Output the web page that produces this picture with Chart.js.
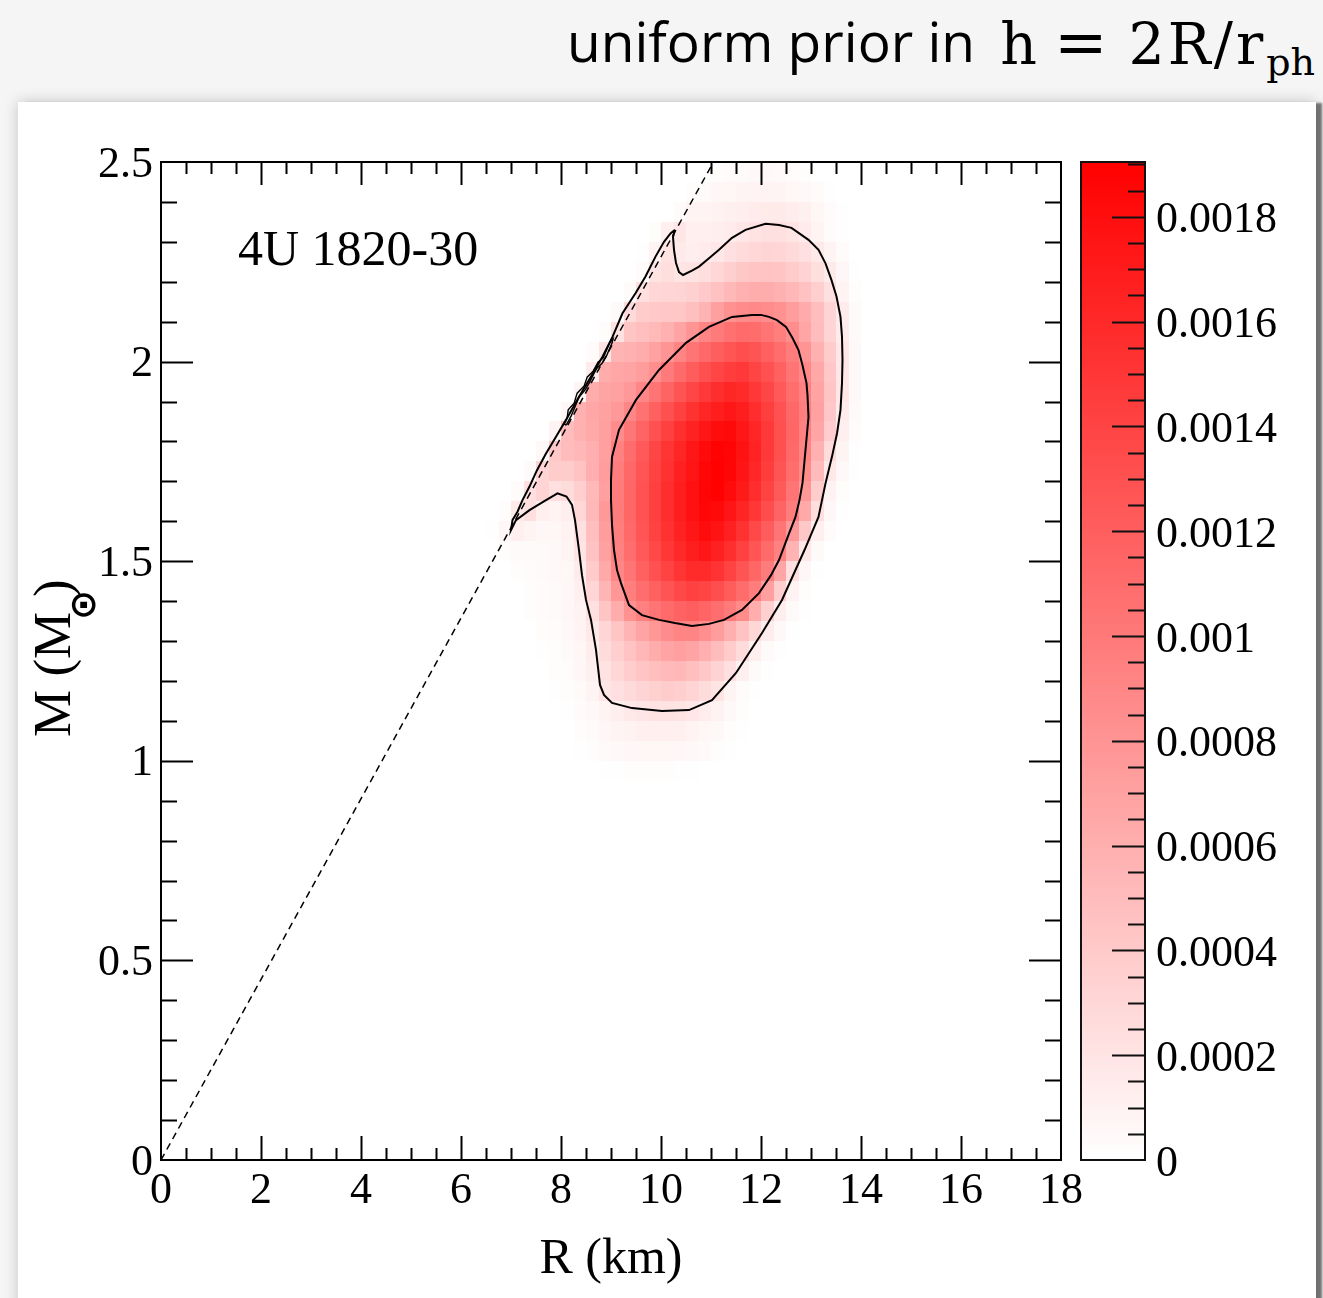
<!DOCTYPE html>
<html>
<head>
<meta charset="utf-8">
<script src="https://cdn.jsdelivr.net/npm/chart.js@4.4.0/dist/chart.umd.min.js"></script>
<style>
html,body{margin:0;padding:0;background:#f5f5f5;width:1323px;height:1298px;overflow:hidden;}
#panel{position:absolute;left:18px;top:102px;width:1298px;height:1230px;background:#fff;
  box-shadow:0 0 14px rgba(0,0,0,0.20), 7px 0 2px -1px rgba(0,0,0,0.5);}
#t1{position:absolute;left:567px;top:13px;white-space:nowrap;line-height:55px;font-family:'Open Sans',sans-serif;font-size:55px;color:#000;}
#t2{position:absolute;right:8px;top:14px;white-space:nowrap;line-height:57px;font-family:'DejaVu Serif',serif;font-size:57px;color:#000;letter-spacing:3px;}
#t2 .eq{font-size:64px;margin:0 18px 0 14px;}
#t2 sub{font-size:38px;vertical-align:-11px;line-height:0;letter-spacing:0;}
#main{position:absolute;left:0;top:0;}
#cbar{position:absolute;left:1070px;top:0;}
</style>
</head>
<body>
<div id="panel"></div>
<div id="t1">uniform prior in</div>
<div id="t2">h<span class="eq">=</span>2R/r<sub>ph</sub></div>
<canvas id="main" width="1088" height="1298"></canvas>
<canvas id="cbar" width="246" height="1298"></canvas>
<script>
// ---------------- data ----------------
const xTickLabels = ['0','2','4','6','8','10','12','14','16','18'];
const yTickLabels = ['0','0.5','1','1.5','2','2.5'];
const cbarTickLabels = ['0','0.0002','0.0004','0.0006','0.0008','0.001','0.0012','0.0014','0.0016','0.0018'];
const sourceName = '4U 1820-30';

// heat-map cell edges (R in km, M in solar masses)
const rEdges = [6.5,6.75,7,7.25,7.5,7.75,8,8.25,8.5,8.75,9,9.25,9.5,9.75,10,10.25,10.5,10.75,11,11.25,11.5,11.75,12,12.25,12.5,12.75,13,13.25,13.5,13.75,14,14.25];
const mEdges = [0.95,1,1.05,1.1,1.15,1.2,1.25,1.3,1.35,1.4,1.45,1.5,1.55,1.6,1.65,1.7,1.75,1.8,1.85,1.9,1.95,2,2.05,2.1,2.15,2.2,2.25,2.3,2.35,2.4,2.45,2.5];
// probability density, units of 1e-5, rows from low M to high M
const densityUnit = 1e-5;
const densityGrid = [
[0,0,0,0,0,0,0,0,0,1,1,2,2,2,2,1,1,0,0,0,0,0,0,0,0,0,0,0,0,0,0],
[0,0,0,0,0,0,0,1,2,4,5,6,7,7,7,6,5,4,2,1,0,0,0,0,0,0,0,0,0,0,0],
[0,0,0,0,0,0,0,2,4,6,8,10,12,12,12,11,9,7,5,2,1,0,0,0,0,0,0,0,0,0,0],
[0,0,0,0,0,0,1,3,5,9,13,17,19,21,21,20,18,14,10,5,2,0,0,0,0,0,0,0,0,0,0],
[0,0,0,0,0,1,2,4,8,19,24,28,32,35,38,36,32,26,20,8,3,1,0,0,0,0,0,0,0,0,0],
[0,0,0,0,0,2,3,6,11,22,30,37,43,48,52,54,48,41,33,24,11,4,1,0,0,0,0,0,0,0,0],
[0,0,0,0,1,2,4,7,14,26,36,45,54,62,68,72,68,60,50,39,26,12,4,1,0,0,0,0,0,0,0],
[0,0,0,0,2,3,5,9,17,31,44,56,68,78,86,92,92,84,73,60,45,30,14,5,1,0,0,0,0,0,0],
[0,0,0,2,3,4,6,10,23,43,62,82,95,104,111,117,120,115,108,99,87,61,35,13,4,1,0,0,0,0,0],
[0,0,0,2,3,4,6,12,31,55,78,96,108,119,128,136,142,140,132,122,110,97,72,36,10,2,0,0,0,0,0],
[0,0,2,3,4,5,7,15,39,64,90,104,118,130,141,151,158,159,152,141,128,114,98,67,24,6,1,0,0,0,0],
[0,2,4,4,4,5,8,20,45,70,93,109,124,137,149,160,168,173,166,155,142,127,111,93,57,18,4,0,0,0,0],
[1,6,12,8,6,7,10,23,48,73,96,112,127,141,154,165,174,181,176,166,153,137,121,103,77,41,12,3,0,0,0],
[0,2,16,24,12,9,13,30,53,77,98,114,129,143,156,168,178,185,184,175,163,149,133,116,97,64,25,6,1,0,0],
[0,0,3,24,32,24,26,36,52,72,98,114,129,143,156,168,178,186,190,182,171,157,141,123,104,78,38,10,2,0,0],
[0,0,0,4,32,38,38,45,60,74,97,113,127,141,154,166,175,185,190,186,175,161,145,128,109,87,51,17,5,1,0],
[0,0,0,0,5,42,50,54,60,72,94,110,124,138,151,162,173,182,188,187,177,164,148,131,112,91,59,26,8,1,0],
[0,0,0,0,0,8,50,58,64,72,86,102,116,130,143,155,165,174,181,183,174,162,148,131,114,94,67,37,12,3,0],
[0,0,0,0,0,0,6,58,66,70,76,90,105,118,131,142,153,162,169,174,168,157,144,130,113,96,70,42,15,4,0],
[0,0,0,0,0,0,0,8,62,68,70,76,90,104,116,128,138,148,156,162,158,149,138,124,109,93,69,43,18,5,0],
[0,0,0,0,0,0,0,0,15,62,66,68,74,84,99,111,121,131,139,145,148,140,130,118,104,88,65,42,18,5,0],
[0,0,0,0,0,0,0,0,3,20,56,58,62,70,80,92,103,112,120,127,132,128,119,109,97,80,59,38,18,5,0],
[0,0,0,0,0,0,0,0,0,2,22,44,48,52,58,68,80,92,99,106,111,110,104,96,85,67,50,32,15,4,0],
[0,0,0,0,0,0,0,0,0,0,4,28,38,40,42,42,48,56,72,82,87,89,87,82,74,63,49,32,15,4,0],
[0,0,0,0,0,0,0,0,0,0,0,3,24,30,31,32,35,40,46,53,59,62,62,59,54,46,36,23,9,2,0],
[0,0,0,0,0,0,0,0,0,0,0,0,3,20,25,20,21,25,30,36,41,44,45,43,39,33,25,16,6,1,0],
[0,0,0,0,0,0,0,0,0,0,0,0,1,9,21,16,13,15,18,23,27,30,32,31,28,23,17,8,3,0,0],
[0,0,0,0,0,0,0,0,0,0,0,0,0,2,12,19,12,11,13,15,18,21,23,23,20,15,8,3,1,0,0],
[0,0,0,0,0,0,0,0,0,0,0,0,0,0,0,3,8,9,10,11,13,15,16,16,14,11,7,3,1,0,0],
[0,0,0,0,0,0,0,0,0,0,0,0,0,0,0,0,2,4,6,7,8,9,9,8,7,5,3,1,0,0,0],
[0,0,0,0,0,0,0,0,0,0,0,0,0,0,0,0,0,0,2,3,4,5,5,4,3,2,0,0,0,0,0]
];
const cbarMax = 0.0019045;

// outer credible contour
const outerR = [10.28,10.24,10.26,10.30,10.36,10.44,10.62,10.76,10.96,11.16,11.42,11.69,12.09,12.36,12.61,12.95,13.15,13.29,13.41,13.51,13.59,13.62,13.63,13.62,13.59,13.52,13.42,13.29,13.15,12.87,12.42,12.02,11.76,11.50,11.02,10.56,10.02,9.42,9.02,8.86,8.78,8.70,8.60,8.50,8.42,8.36,8.28,8.22,8.11,7.93,7.70,7.37,7.10,7.00,7.03,7.13,7.23,7.37,7.52,7.70,7.90,8.10,8.36,8.56,8.83,9.03,9.23,9.49,9.69,9.89,10.06,10.19,10.28];
const outerM = [2.330,2.312,2.280,2.247,2.224,2.217,2.228,2.238,2.259,2.280,2.310,2.330,2.345,2.342,2.335,2.305,2.280,2.246,2.204,2.163,2.112,2.062,2.004,1.946,1.879,1.820,1.762,1.695,1.611,1.528,1.403,1.320,1.270,1.220,1.152,1.127,1.125,1.132,1.145,1.165,1.190,1.278,1.353,1.403,1.465,1.528,1.603,1.641,1.662,1.670,1.653,1.628,1.603,1.578,1.603,1.624,1.653,1.687,1.728,1.770,1.812,1.854,1.912,1.954,2.012,2.062,2.121,2.171,2.213,2.263,2.300,2.321,2.330];
// inner credible contour
const innerR = [11.82,11.42,10.96,10.50,9.96,9.50,9.16,9.02,9.00,9.00,9.02,9.06,9.12,9.20,9.36,9.62,9.96,10.28,10.62,10.96,11.26,11.62,11.96,12.20,12.36,12.55,12.69,12.77,12.83,12.89,12.95,12.93,12.91,12.83,12.75,12.63,12.50,12.32,12.16,12.00,11.82];
const innerM = [2.117,2.112,2.087,2.047,1.979,1.904,1.829,1.761,1.703,1.653,1.591,1.528,1.478,1.445,1.390,1.365,1.353,1.345,1.338,1.343,1.353,1.378,1.420,1.465,1.503,1.566,1.611,1.653,1.696,1.779,1.861,1.916,1.946,1.991,2.029,2.059,2.087,2.104,2.112,2.117,2.117];
// thin inner-level island along the causality line
const ridgeR = [8.104,8.204,8.303,8.363,8.483,8.563,8.663,8.723,8.822,8.902,9.022,9.042,8.982,8.842,8.743,8.643,8.523,8.463,8.323,8.263,8.144,8.124,8.064,8.104];
const ridgeM = [1.841,1.864,1.894,1.911,1.929,1.946,1.971,1.984,1.996,2.012,2.047,2.057,2.049,2.009,1.999,1.976,1.961,1.939,1.921,1.896,1.879,1.859,1.844,1.841];
// limit line R = 3GM/c^2
const limitR = [0, 11.05];
const limitM = [0, 2.5];

// ---------------- helpers ----------------
const SERIF = "'Liberation Serif', 'Times New Roman', serif";
function pts(rs, ms){ return rs.map((r,i)=>({x:r, y:ms[i]})); }
function densityColor(v){
  const t = Math.max(0, Math.min(1, v / cbarMax));
  const g = Math.round(255 * (1 - t));
  return 'rgb(255,' + g + ',' + g + ')';
}

const heatmapPlugin = {
  id:'heatmap',
  beforeDatasetsDraw(chart){
    const {ctx, chartArea:a, scales:{x, y}} = chart;
    ctx.save();
    ctx.beginPath(); ctx.rect(a.left, a.top, a.right-a.left, a.bottom-a.top); ctx.clip();
    for (let j = 0; j < densityGrid.length; j++){
      const row = densityGrid[j];
      const yTop = Math.round(y.getPixelForValue(mEdges[j+1]));
      const yBot = Math.round(y.getPixelForValue(mEdges[j]));
      for (let k = 0; k < row.length; k++){
        const v = row[k];
        if (!v) continue;
        const xL = Math.round(x.getPixelForValue(rEdges[k]));
        const xR = Math.round(x.getPixelForValue(rEdges[k+1]));
        ctx.fillStyle = densityColor(v * densityUnit);
        ctx.fillRect(xL, yTop, xR-xL, yBot-yTop);
      }
    }
    ctx.restore();
  }
};

const framePlugin = {
  id:'frame',
  afterDatasetsDraw(chart){
    const {ctx, chartArea:a, scales:{x, y}} = chart;
    ctx.save();
    ctx.strokeStyle = '#000';
    ctx.lineWidth = 2;
    ctx.beginPath();
    // x ticks every 0.5 km, major every 2 km
    for (let i = 1; i < 36; i++){
      const px = Math.round(x.getPixelForValue(i*0.5)) + 0.5;
      const major = (i % 4 === 0);
      ctx.moveTo(px, a.bottom); ctx.lineTo(px, a.bottom - (major ? 24 : 12));
      ctx.moveTo(px, a.top); ctx.lineTo(px, a.top + (major ? 23 : 12));
    }
    // y ticks every 0.1, major every 0.5
    for (let i = 1; i < 25; i++){
      const py = Math.round(y.getPixelForValue(i*0.1)) + 0.5;
      const major = (i % 5 === 0);
      ctx.moveTo(a.left, py); ctx.lineTo(a.left + (major ? 32 : 16), py);
      ctx.moveTo(a.right, py); ctx.lineTo(a.right - (major ? 32 : 16), py);
    }
    ctx.stroke();
    ctx.strokeRect(a.left, a.top, a.right-a.left, a.bottom-a.top);

    // source label
    ctx.fillStyle = '#000';
    ctx.font = '50px ' + SERIF;
    ctx.textAlign = 'left'; ctx.textBaseline = 'alphabetic';
    ctx.fillText(sourceName, x.getPixelForValue(1.54), y.getPixelForValue(2.242));

    // y-axis title  M (M_sun)
    ctx.translate(70, 737);
    ctx.rotate(-Math.PI/2);
    ctx.font = '53px ' + SERIF;
    ctx.fillText('M (M', 0, 0);
    ctx.font = "bold 36px 'DejaVu Sans', sans-serif";
    ctx.textAlign = 'center'; ctx.textBaseline = 'middle';
    ctx.fillText('\u2299', 132, 16);
    ctx.font = '53px ' + SERIF;
    ctx.textAlign = 'left'; ctx.textBaseline = 'alphabetic';
    ctx.fillText(')', 140, 0);
    ctx.restore();
  }
};

const lineStyle = {showLine:true, borderColor:'#000', pointRadius:0, pointHoverRadius:0, fill:false, tension:0};

new Chart(document.getElementById('main'), {
  type:'scatter',
  data:{ datasets:[
    Object.assign({label:'outer contour', data:pts(outerR, outerM), borderWidth:2}, lineStyle),
    Object.assign({label:'inner contour', data:pts(innerR, innerM), borderWidth:2}, lineStyle),
    Object.assign({label:'inner island', data:pts(ridgeR, ridgeM), borderWidth:1.4}, lineStyle),
    Object.assign({label:'R = 3GM/c^2', data:pts(limitR, limitM), borderWidth:1.5, borderDash:[7,5]}, lineStyle)
  ]},
  options:{
    responsive:false, animation:false, devicePixelRatio:1,
    layout:{padding:{left:0, right:0, top:162, bottom:0}},
    plugins:{legend:{display:false}, tooltip:{enabled:false}},
    scales:{
      x:{type:'linear', min:0, max:18,
        afterFit(s){ s.height = 138; },
        grid:{display:false, drawTicks:false}, border:{display:false},
        ticks:{stepSize:2, autoSkip:false, maxRotation:0, padding:5, color:'#000',
          font:{family:SERIF, size:44},
          callback:(v)=> xTickLabels[Math.round(v/2)] ?? ''},
        title:{display:true, text:'R (km)', color:'#000', font:{family:SERIF, size:50}, padding:{top:0, bottom:8}}
      },
      y:{type:'linear', min:0, max:2.5,
        afterFit(s){ s.width = 161; },
        grid:{display:false, drawTicks:false}, border:{display:false},
        ticks:{stepSize:0.5, autoSkip:false, padding:8, labelOffset:3, color:'#000',
          font:{family:SERIF, size:44},
          callback:(v)=> yTickLabels[Math.round(v*2)] ?? ''}
      }
    }
  },
  plugins:[heatmapPlugin, framePlugin]
});

const cbarPlugin = {
  id:'cbar',
  afterDraw(chart){
    const {ctx, chartArea:a, scales:{y}} = chart;
    ctx.save();
    const y0 = y.getPixelForValue(0), y1 = y.getPixelForValue(cbarMax);
    const grad = ctx.createLinearGradient(0, y0, 0, y1);
    grad.addColorStop(0, densityColor(0));
    grad.addColorStop(1, densityColor(cbarMax));
    ctx.fillStyle = grad;
    ctx.fillRect(a.left, a.top, a.right-a.left, a.bottom-a.top);
    ctx.strokeStyle = '#111';
    ctx.lineWidth = 2;
    ctx.beginPath();
    for (let i = 1; i <= 38; i++){
      const py = Math.round(y.getPixelForValue(i*0.00005)) + 0.5;
      const major = (i % 4 === 0);
      ctx.moveTo(a.right, py); ctx.lineTo(a.right - (major ? 33 : 17), py);
    }
    ctx.stroke();
    ctx.strokeRect(a.left, a.top, a.right-a.left, a.bottom-a.top);
    ctx.restore();
  }
};

new Chart(document.getElementById('cbar'), {
  type:'scatter',
  data:{datasets:[]},
  options:{
    responsive:false, animation:false, devicePixelRatio:1,
    layout:{padding:{left:11, right:0, top:162, bottom:138}},
    plugins:{legend:{display:false}, tooltip:{enabled:false}},
    scales:{
      x:{display:false, min:0, max:1},
      y:{position:'right', min:0, max:cbarMax,
        afterFit(s){ s.width = 171; },
        grid:{display:false, drawTicks:false}, border:{display:false},
        ticks:{stepSize:0.0002, includeBounds:false, autoSkip:false, padding:11, labelOffset:4, color:'#000',
          font:{family:SERIF, size:44},
          callback:(v, i)=> cbarTickLabels[i] ?? ''}
      }
    }
  },
  plugins:[cbarPlugin]
});
</script>
</body>
</html>
